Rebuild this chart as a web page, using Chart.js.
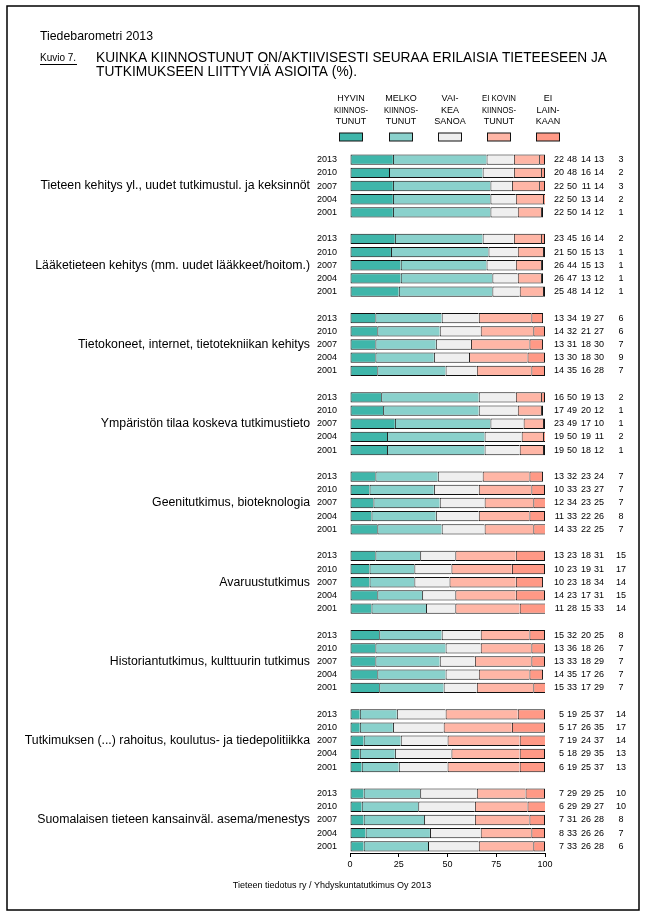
<!DOCTYPE html>
<html>
<head>
<meta charset="utf-8">
<script src="https://cdn.jsdelivr.net/npm/chart.js@4/dist/chart.umd.min.js"></script>
<style>
	html, body { margin: 0; padding: 0; background: #fff; }
	#chart { display: block; }
</style>
</head>
<body>
<canvas id="chart" width="646" height="916"></canvas>
<script>
// chart data
var years = ['2013', '2010', '2007', '2004', '2001'];
var topics = [
	'Tieteen kehitys yl., uudet tutkimustul. ja keksinnöt',
	'Lääketieteen kehitys (mm. uudet lääkkeet/hoitom.)',
	'Tietokoneet, internet, tietotekniikan kehitys',
	'Ympäristön tilaa koskeva tutkimustieto',
	'Geenitutkimus, bioteknologia',
	'Avaruustutkimus',
	'Historiantutkimus, kulttuurin tutkimus',
	'Tutkimuksen (...) rahoitus, koulutus- ja tiedepolitiikka',
	'Suomalaisen tieteen kansainväl. asema/menestys'
];
var seriesNames = [
	['HYVIN', 'KIINNOS-', 'TUNUT'],
	['MELKO', 'KIINNOS-', 'TUNUT'],
	['VAI-', 'KEA', 'SANOA'],
	['EI KOVIN', 'KIINNOS-', 'TUNUT'],
	['EI', 'LAIN-', 'KAAN']
];
// one row per topic, values in years order
var hyvin      = [[22,20,22,22,22],[23,21,26,26,25],[13,14,13,13,14],[16,17,23,19,19],[13,10,12,11,14],[13,10,10,14,11],[15,13,13,14,15],[5,5,7,5,6],[7,6,7,8,7]];
var melko      = [[48,48,50,50,50],[45,50,44,47,48],[34,32,31,30,35],[50,49,49,50,50],[32,33,34,33,33],[23,23,23,23,28],[32,36,33,35,33],[19,17,19,18,19],[29,29,31,33,33]];
var vaikea     = [[14,16,11,13,14],[16,15,15,13,14],[19,21,18,18,16],[19,20,17,19,18],[23,23,23,22,22],[18,19,18,17,15],[20,18,18,17,17],[25,26,24,29,25],[29,29,26,26,26]];
var eiKovin    = [[13,14,14,14,12],[14,13,13,12,12],[27,27,30,30,28],[13,12,10,11,12],[24,27,25,26,25],[31,31,34,31,33],[25,26,29,26,29],[37,35,37,35,37],[25,27,28,26,28]];
var eiLainkaan = [[3,2,3,2,1],[2,1,1,1,1],[6,6,7,9,7],[2,1,1,2,1],[7,7,7,8,7],[15,17,14,15,14],[8,7,7,7,7],[14,17,14,13,13],[10,10,8,7,6]];
var xTicks = [0, 25, 50, 75, 100];

var colors = ['#3fb6aa', '#8ad1cc', '#efefef', '#ffb6a6', '#ff9986'];
var FONT = "'Liberation Sans', Arial, sans-serif";

// flatten groups into category slots, empty slot between topics
var labels = [];
var groupMid = [];
function flat(arr) {
	var out = [];
	arr.forEach(function (row, g) {
		row.forEach(function (v) { out.push(v); });
		if (g < arr.length - 1) out.push(null);
	});
	return out;
}
topics.forEach(function (t, g) {
	years.forEach(function (y, i) {
		if (i == 2) groupMid.push(labels.length);
		labels.push(y);
	});
	if (g < topics.length - 1) labels.push('');
});
var allSeries = [hyvin, melko, vaikea, eiKovin, eiLainkaan];

var datasets = allSeries.map(function (s, k) {
	return {
		label: seriesNames[k].join(' '),
		data: flat(s),
		backgroundColor: colors[k],
		borderColor: '#111',
		borderWidth: { top: 1, bottom: 1, left: 1, right: k == 4 ? 1 : 0 },
		borderSkipped: false,
		barPercentage: 0.78,
		categoryPercentage: 1
	};
});

function txt(ctx, s, x, y, size, align, maxW) {
	ctx.font = size + 'px ' + FONT;
	ctx.textAlign = align || 'left';
	ctx.textBaseline = 'middle';
	ctx.fillStyle = '#000';
	if (maxW) ctx.fillText(s, x, y, maxW);
	else ctx.fillText(s, x, y);
}

var textPlugin = {
	id: 'texts',
	afterDraw: function (chart) {
		var ctx = chart.ctx;
		var ys = chart.scales.y;
		ctx.save();

		// frame
		ctx.strokeStyle = '#000';
		ctx.lineWidth = 1.5;
		ctx.strokeRect(7, 6, 632, 904);

		// headings
		txt(ctx, 'Tiedebarometri 2013', 40, 36, 13, 'left', 113);
		txt(ctx, 'Kuvio 7.', 40, 58, 10, 'left', 37);
		ctx.lineWidth = 1;
		ctx.beginPath();
		ctx.moveTo(40, 64.5);
		ctx.lineTo(77, 64.5);
		ctx.stroke();
		txt(ctx, 'KUINKA KIINNOSTUNUT ON/AKTIIVISESTI SEURAA ERILAISIA TIETEESEEN JA', 96, 58, 15, 'left', 511);
		txt(ctx, 'TUTKIMUKSEEN LIITTYVIÄ ASIOITA (%).', 96, 72, 15, 'left', 261);

		// legend
		var legX = [351, 401, 450, 499, 548];
		seriesNames.forEach(function (lines, k) {
			lines.forEach(function (l, j) {
				txt(ctx, l, legX[k], 99 + j * 11.5, 9, 'center', 34);
			});
			ctx.fillStyle = colors[k];
			ctx.fillRect(legX[k] - 11.5, 133, 23, 8);
			ctx.strokeStyle = '#111';
			ctx.strokeRect(legX[k] - 11.5, 133, 23, 8);
		});

		// topic names
		topics.forEach(function (t, g) {
			txt(ctx, t, 310, ys.getPixelForValue(groupMid[g]), 12.3, 'right');
		});

		// values on the right
		var colX = [564, 577, 591, 604];
		labels.forEach(function (l, i) {
			if (l === '') return;
			var yy = ys.getPixelForValue(i);
			allSeries.forEach(function (s, k) {
				var v = chart.data.datasets[k].data[i];
				if (k < 4) txt(ctx, String(v), colX[k], yy, 9, 'right');
				else txt(ctx, String(v), 621, yy, 9, 'center');
			});
		});

		// source
		txt(ctx, 'Tieteen tiedotus ry / Yhdyskuntatutkimus Oy 2013', 332, 886, 9, 'center');
		ctx.restore();
	}
};

var ctx = document.getElementById('chart').getContext('2d');
var chart = new Chart(ctx, {
	type: 'bar',
	data: {
		labels: labels,
		datasets: datasets
	},
	options: {
		indexAxis: 'y',
		responsive: false,
		animation: false,
		devicePixelRatio: 1,
		layout: {
			padding: { left: 312, right: 101, top: 153, bottom: 43 }
		},
		plugins: {
			legend: { display: false },
			tooltip: { enabled: false }
		},
		scales: {
			x: {
				stacked: true,
				min: 0,
				max: 100,
				afterBuildTicks: function (s) {
					s.ticks = xTicks.map(function (v) { return { value: v }; });
				},
				afterFit: function (s) { s.height = 20; },
				grid: {
					drawOnChartArea: false,
					drawTicks: true,
					tickLength: 4,
					color: '#000'
				},
				border: { display: true, color: '#000', width: 1 },
				ticks: {
					color: '#000',
					padding: 2,
					maxRotation: 0,
					font: { family: FONT, size: 9 }
				}
			},
			y: {
				stacked: true,
				afterFit: function (s) { s.width = 38; },
				grid: { display: false },
				border: { display: false },
				ticks: {
					autoSkip: false,
					color: '#000',
					padding: 5,
					font: { family: FONT, size: 9 }
				}
			}
		}
	},
	plugins: [textPlugin]
});
</script>
</body>
</html>
